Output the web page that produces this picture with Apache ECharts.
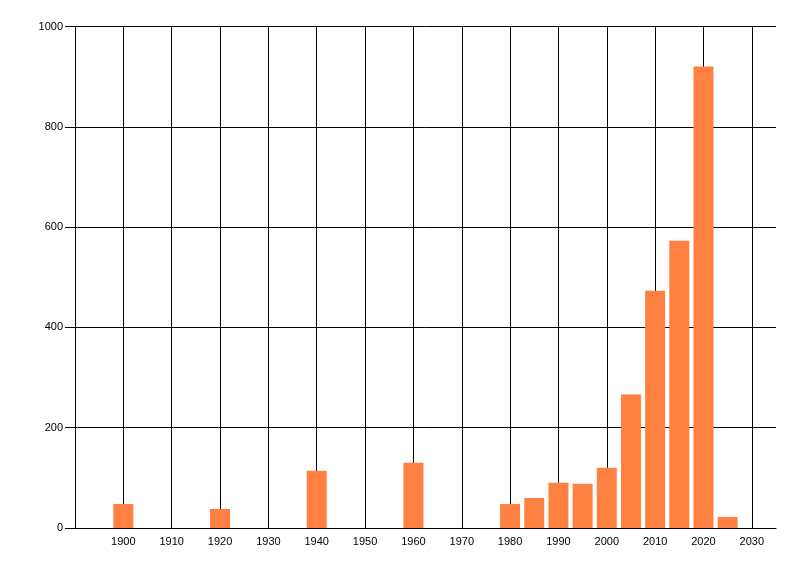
<!DOCTYPE html>
<html><head><meta charset="utf-8">
<script src="https://cdn.jsdelivr.net/npm/echarts@6/dist/echarts.min.js"></script>
<style>html,body{margin:0;padding:0;background:#fff}#c{width:800px;height:576px}</style>
</head><body><div id="c"></div>
<script>
const years = [1900, 1920, 1940, 1960, 1980, 1985, 1990, 1995, 2000, 2005, 2010, 2015, 2020, 2025];
const values = [48, 38, 114, 130, 48, 60, 90, 88, 120, 266, 473, 573, 920, 22];
const yTicks = [0, 200, 400, 600, 800, 1000];

const chart = echarts.init(document.getElementById('c'), null, {renderer: 'canvas'});
const font = {fontFamily: 'Liberation Sans', fontSize: 11, color: '#000'};
const plain = v => String(v);
chart.setOption({
  animation: false,
  grid: {left: 75, right: 24, top: 26.5, bottom: 48, containLabel: false},
  xAxis: {
    type: 'value', min: 1890, max: 2035, interval: 10,
    axisLine: {show: true, onZero: false, lineStyle: {color: '#000', width: 1}},
    axisTick: {show: false},
    axisLabel: Object.assign({showMinLabel: false, showMaxLabel: false, margin: 8, formatter: plain}, font),
    splitLine: {show: true, showMinLine: false, showMaxLine: false, lineStyle: {color: '#000', width: 1}}
  },
  yAxis: {
    type: 'value', min: yTicks[0], max: yTicks[yTicks.length - 1], interval: 200,
    axisLine: {show: true, lineStyle: {color: '#000', width: 1}},
    axisTick: {show: true, length: 10, lineStyle: {color: '#000'}},
    axisLabel: Object.assign({margin: 12, formatter: plain}, font),
    splitLine: {show: true, lineStyle: {color: '#000', width: 1}}
  },
  series: [{
    type: 'bar',
    data: years.map((y, i) => [y, values[i]]),
    barWidth: 20,
    itemStyle: {color: '#FF8040'}
  }]
});
</script></body></html>
